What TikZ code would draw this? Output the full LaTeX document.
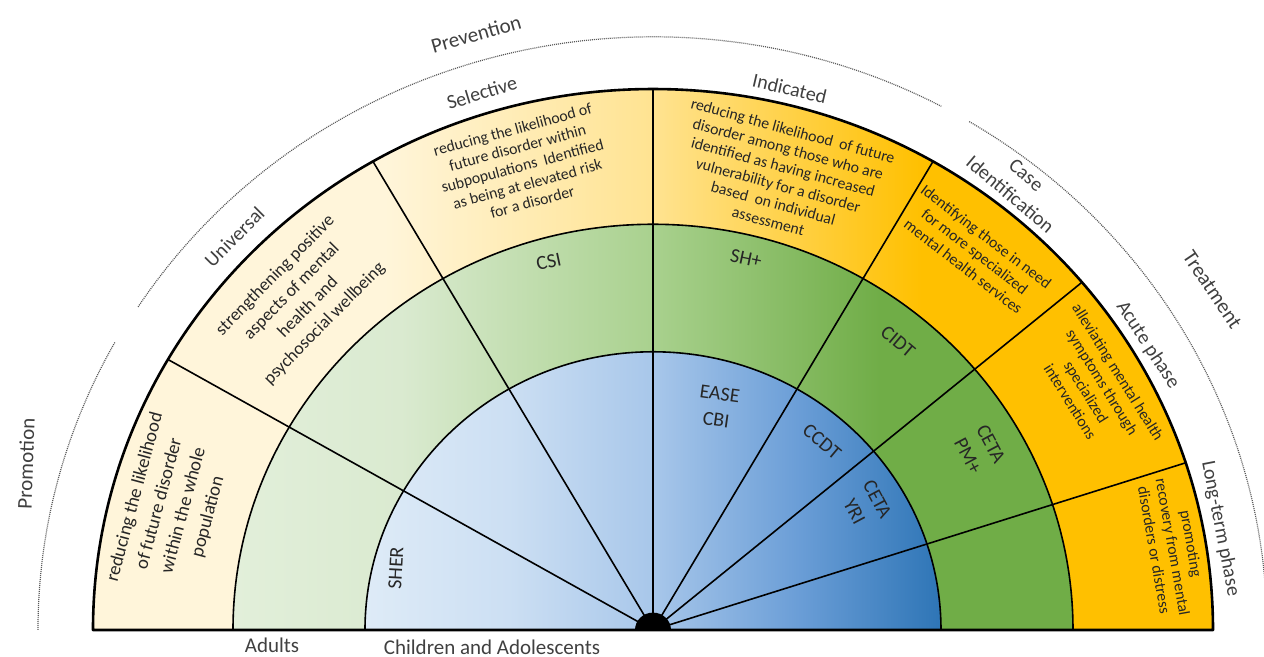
\documentclass[tikz,border=0pt]{standalone}
\usepackage{fontspec}
\setmainfont{Carlito}

\definecolor{cream}{HTML}{FFF5DA}
\definecolor{paleamber}{HTML}{FFE391}
\definecolor{amber}{HTML}{FFC000}
\definecolor{palegreen}{HTML}{E2EFDA}
\definecolor{lightgreen}{HTML}{DAEAD0}
\definecolor{midgreen}{HTML}{A9D18E}
\definecolor{darkgreen}{HTML}{70AD47}
\definecolor{paleblue}{HTML}{DEEBF7}
\definecolor{lightblue}{HTML}{CCDFF3}
\definecolor{midblue}{HTML}{A8C7EA}
\definecolor{skyblue}{HTML}{6B9ED7}
\definecolor{deepblue}{HTML}{2E75B6}

\pgfdeclarehorizontalshading{descring}{100bp}{color(0bp)=(cream); color(38bp)=(cream); color(50bp)=(paleamber); color(62bp)=(amber); color(100bp)=(amber)}
\pgfdeclarehorizontalshading{adultring}{100bp}{color(0bp)=(palegreen); color(25bp)=(palegreen); color(35bp)=(lightgreen); color(50bp)=(midgreen); color(63.5bp)=(darkgreen); color(100bp)=(darkgreen)}
\pgfdeclarehorizontalshading{childring}{100bp}{color(0bp)=(paleblue); color(25bp)=(paleblue); color(37.5bp)=(lightblue); color(50bp)=(midblue); color(62.5bp)=(skyblue); color(75bp)=(deepblue); color(100bp)=(deepblue)}

\tikzset{
  divider/.style={draw=black, line width=0.8pt},
  rimline/.style={draw=black, line width=1.3pt},
  scopearc/.style={draw=black!65, line width=0.6pt, dash pattern=on 0.5pt off 0.5pt},
  grouplabel/.style={text=black!75, font=\fontsize{10.5}{12.5}\selectfont, align=center},
  bandlabel/.style={text=black!75, font=\fontsize{10}{12.5}\selectfont, align=center},
  bodytext/.style={text=black!85, font=\fontsize{7.9}{9.4}\selectfont, align=center, inner sep=0pt},
  programme/.style={text=black!85, font=\fontsize{10}{13}\selectfont, align=center, inner sep=0pt}
}

\begin{document}
\begin{tikzpicture}[x=0.5pt, y=0.483pt, line join=round]
\useasboundingbox (-326.5pt,-13.5pt) rectangle (305.5pt,315pt);

\coordinate (centre) at (0,0);

\shade[shading=descring] (560,0) arc[start angle=0, end angle=180, radius=560] -- cycle;
\shade[shading=adultring] (420,0) arc[start angle=0, end angle=180, radius=420] -- cycle;
\shade[shading=childring] (288,0) arc[start angle=0, end angle=180, radius=288] -- cycle;

\draw[divider] (420,0) arc[start angle=0, end angle=180, radius=420];
\draw[divider] (288,0) arc[start angle=0, end angle=180, radius=288];
\foreach \ang in {150,120,90,60,40,18} {
  \coordinate (rim\ang) at (\ang:560);
  \draw[divider] (centre) -- (rim\ang);
}
\draw[rimline] (560,0) arc[start angle=0, end angle=180, radius=560] -- cycle;
\fill[black] (18,0) arc[start angle=0, end angle=180, radius=18] -- cycle;

\draw[scopearc] (180:615) arc[start angle=180, end angle=151, radius=615];
\draw[scopearc] (147:614) arc[start angle=147, end angle=62, radius=614];
\draw[scopearc] (59:614) arc[start angle=59, end angle=0, radius=614];

\node (promotion) at (-627,172) [grouplabel, rotate=88] {Promotion};
\node (prevention) at (106:642) [grouplabel, rotate=16] {Prevention};
\node (treatment) at (32.2:661) [grouplabel, rotate=-56] {Treatment};

\node (universal) at (135.8:584) [bandlabel, rotate=45] {Universal};
\node (selective) at (107.1:582) [bandlabel, rotate=17] {Selective};
\node (indicated) at (76.3:577) [bandlabel, rotate=-13] {Indicated};
\node (caseid) at (51.6:588) [bandlabel, rotate=-40] {Case\\Identification};
\node (acute) at (30.8:576) [bandlabel, rotate=-57] {Acute phase};
\node (longterm) at (10.5:577) [bandlabel, rotate=-79] {Long-term phase};

\node (promotext) at (165.2:498) [bodytext, font=\fontsize{9.4}{12.6}\selectfont, rotate=75]
  {reducing the likelihood\\of future disorder\\within the whole\\population};
\node (universaltext) at (135.9:491.5) [bodytext, font=\fontsize{8.9}{11.5}\selectfont, rotate=45.5]
  {strengthening positive\\aspects of mental\\health and\\psychosocial wellbeing};
\node (selectivetext) at (105.2:498) [bodytext, rotate=15.2]
  {reducing the likelihood of\\future disorder within\\subpopulations~ Identified\\as being at elevated risk\\for a disorder};
\node (indicatedtext) at (74.8:487) [bodytext, rotate=-15.2]
  {reducing the likelihood~ of future\\disorder among those who are\\identified as having increased\\vulnerability for a disorder\\based~ on individual\\assessment};
\node (casetext) at (50.6:507) [bodytext, rotate=-37.5]
  {Identifying those in need\\for more specialized\\mental health services};
\node (acutetext) at (29.7:508) [bodytext, rotate=-58]
  {alleviating mental health\\symptoms through\\specialized\\interventions};
\node (longtext) at (9.4:527) [bodytext, rotate=-80]
  {promoting\\recovery from mental\\disorders or distress};

\node (csi) at (105.3:395) [programme, rotate=12] {CSI};
\node (shplus) at (76.4:396) [programme, rotate=-12] {SH+};
\node (cidt) at (50.6:386) [programme, rotate=-40] {CIDT};
\node (cetapm) at (29.7:376) [programme, rotate=-62] {CETA\\PM+};
\node (sher) at (166:265) [programme, rotate=87] {SHER};
\node (easecbi) at (74.3:240) [programme, rotate=-8] {EASE\\CBI};
\node (ccdt) at (49.1:258) [programme, rotate=-40] {CCDT};
\node (cetayri) at (31.2:249) [programme, rotate=-62] {CETA\\YRI};

\node (adults) at (-381,-15.5) [grouplabel] {Adults};
\node (children) at (-161,-17.6) [grouplabel] {Children and Adolescents};
\end{tikzpicture}
\end{document}
